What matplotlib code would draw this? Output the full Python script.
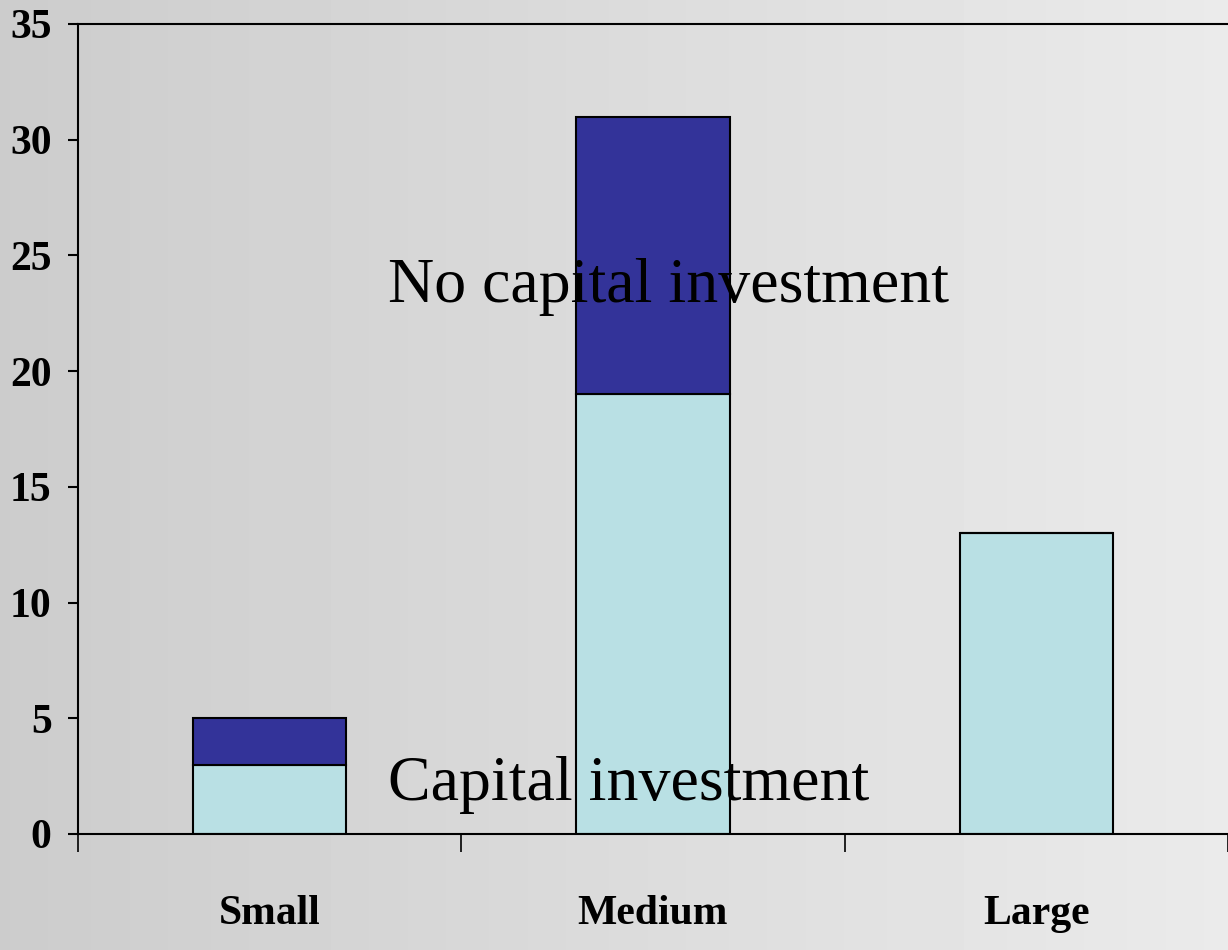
import numpy as np
import matplotlib.pyplot as plt

# data
sizes = ['Small', 'Medium', 'Large']
capital = [3, 19, 13]
no_capital = [2, 12, 0]
yticks = [0, 5, 10, 15, 20, 25, 30, 35]

fig = plt.figure(figsize=(12.28, 9.5), dpi=100)

# grey background, darker on the left
bg = fig.add_axes([0, 0, 1, 1], zorder=0)
grad = np.linspace(0.80, 0.92, 256).reshape(1, -1)
bg.imshow(grad, cmap='gray', vmin=0, vmax=1, aspect='auto', extent=[0, 1, 0, 1])
bg.axis('off')

ax = fig.add_axes([78/1228, 116/950, 1 - 78/1228, (834-24)/950], zorder=1)
ax.patch.set_alpha(0)

x = np.arange(len(sizes))
w = 0.4
ax.bar(x, capital, w, color='#b9e0e4', edgecolor='black', linewidth=1.5, zorder=2)
ax.bar(x, no_capital, w, bottom=capital, color='#333399', edgecolor='black',
       linewidth=1.5, zorder=2)

ax.set_xlim(-0.5, 2.5)
ax.set_ylim(0, 35)
ax.set_yticks(yticks)

ax.set_xticks(x)
ax.set_xticklabels(sizes)
ax.set_xticks([-0.5, 0.5, 1.5, 2.5], minor=True)
ax.tick_params(axis='x', which='major', length=0, pad=44)
ax.tick_params(axis='x', which='minor', length=13, width=1.2, direction='out')
ax.tick_params(axis='y', length=7, width=1.5, direction='out', pad=12)

for lab in ax.get_xticklabels() + ax.get_yticklabels():
    lab.set_fontfamily('Liberation Serif')
    lab.set_fontweight('bold')
    lab.set_fontsize(30)

for s in ['left', 'bottom', 'top']:
    ax.spines[s].set_linewidth(1.5)
ax.spines['right'].set_visible(False)

ax.text(0.31, 23, 'No capital investment', fontfamily='Liberation Serif',
        fontsize=46, va='baseline', ha='left', zorder=3)
ax.text(0.31, 1.45, 'Capital investment', fontfamily='Liberation Serif',
        fontsize=46, va='baseline', ha='left', zorder=3)

fig.savefig('out.png', dpi=100)
